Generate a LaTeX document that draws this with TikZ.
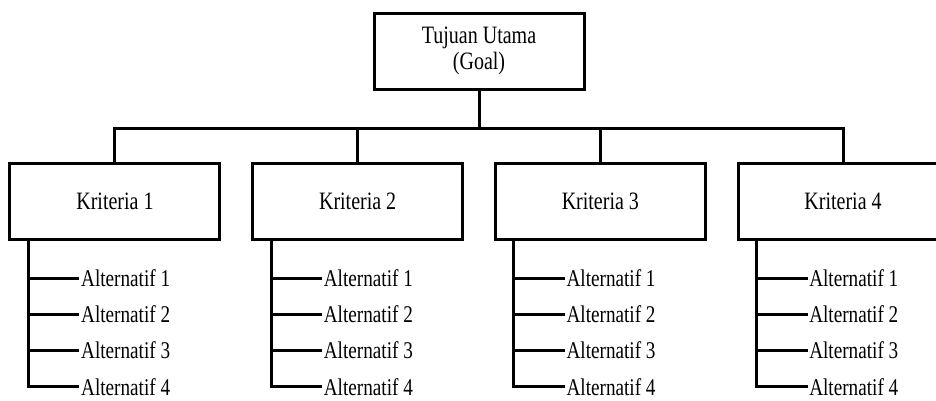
\documentclass[tikz,border=0pt]{standalone}
\usepackage{fontspec}
\setmainfont{Liberation Serif}[FakeStretch=0.8]
\usetikzlibrary{positioning,calc}
\tikzset{
  box/.style={
      draw,
      line width=3pt,
      minimum width=210pt,
      minimum height=76pt,
      align=center,
      text centered,
      font=\fontsize{25}{26}\selectfont
  },
  alt/.style={
      anchor=west,
      inner xsep=1.5pt,
      inner ysep=0pt,
      font=\fontsize{24}{26}\selectfont
  },
  link/.style={line width=3pt}
}

\begin{document}
\begin{tikzpicture}[x=1pt,y=1pt,level distance=150.5pt,sibling distance=242.7pt,
			edge from parent/.style={draw,link},
			edge from parent path={(\tikzparentnode.south) -- ++(0,-37.5) -| (\tikzchildnode.north)}]
				\useasboundingbox (0,0) rectangle (936,-400);
				\node[box] (goal) at (479,-51) {Tujuan Utama\\(Goal)}
					child{ node[box] (k1) {Kriteria 1}}
					child{ node[box] (k2) {Kriteria 2}}
					child{ node[box] (k3) {Kriteria 3}}
					child{ node[box] (k4) {Kriteria 4}};
				% alternatif under every kriteria
				\foreach \k in {1,...,4}{
					\coordinate (t\k) at ([xshift=20pt]k\k.south west);
					\foreach \a in {1,...,4}
						\node[alt] (a\k\a) at ([xshift=51pt,yshift={-(37+36.3*(\a-1))*1pt}]t\k) {Alternatif \a};
					\draw[link] (t\k) |- (a\k4.west);
					\foreach \a in {1,2,3}
						\draw[link] (t\k |- a\k\a.west) -- (a\k\a.west);
				}
		\end{tikzpicture}
\end{document}
